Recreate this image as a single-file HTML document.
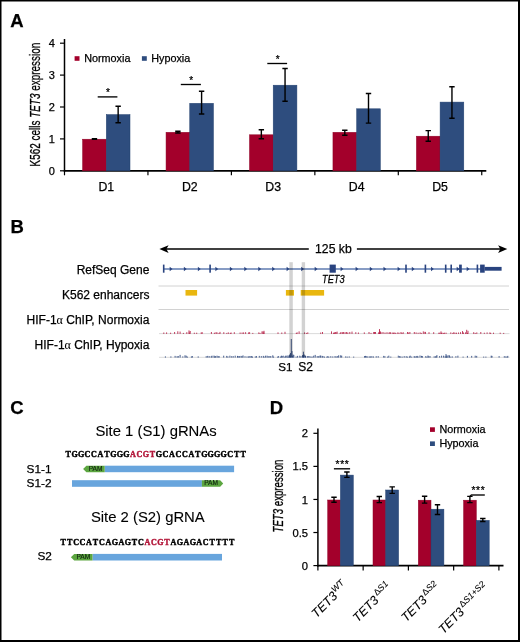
<!DOCTYPE html>
<html><head><meta charset="utf-8"><style>
html,body{margin:0;padding:0;background:#fff;}
svg{display:block;will-change:transform;}
</style></head><body>
<svg width="520" height="642" viewBox="0 0 520 642">
<rect x="0" y="0" width="520" height="642" fill="#fff"/>
<rect x="0" y="0" width="1.5" height="642" fill="#000"/>
<rect x="0" y="0" width="520" height="1.5" fill="#000"/>
<rect x="518" y="0" width="2" height="642" fill="#000"/>
<rect x="0" y="640" width="520" height="2" fill="#000"/>
<text x="10.3" y="27.1" font-size="18.5" font-weight="bold" font-family="Liberation Sans, sans-serif" stroke="#000" stroke-width="0.25">A</text>
<text x="10.6" y="232.9" font-size="18.5" font-weight="bold" font-family="Liberation Sans, sans-serif" stroke="#000" stroke-width="0.25">B</text>
<text x="10.3" y="414.2" font-size="18.5" font-weight="bold" font-family="Liberation Sans, sans-serif" stroke="#000" stroke-width="0.25">C</text>
<text x="269.8" y="414.2" font-size="18.5" font-weight="bold" font-family="Liberation Sans, sans-serif" stroke="#000" stroke-width="0.25">D</text>
<line x1="64.5" y1="39" x2="64.5" y2="171.6" stroke="#000" stroke-width="1.5"/>
<line x1="63.8" y1="170.8" x2="486.3" y2="170.8" stroke="#000" stroke-width="1.8"/>
<line x1="60" y1="170.80" x2="64.5" y2="170.80" stroke="#000" stroke-width="1.2"/>
<text x="54.8" y="174.80" font-size="11" text-anchor="end" font-family="Liberation Sans, sans-serif" stroke="#000" stroke-width="0.25">0</text>
<line x1="60" y1="138.90" x2="64.5" y2="138.90" stroke="#000" stroke-width="1.2"/>
<text x="54.8" y="142.90" font-size="11" text-anchor="end" font-family="Liberation Sans, sans-serif" stroke="#000" stroke-width="0.25">1</text>
<line x1="60" y1="107.00" x2="64.5" y2="107.00" stroke="#000" stroke-width="1.2"/>
<text x="54.8" y="111.00" font-size="11" text-anchor="end" font-family="Liberation Sans, sans-serif" stroke="#000" stroke-width="0.25">2</text>
<line x1="60" y1="75.10" x2="64.5" y2="75.10" stroke="#000" stroke-width="1.2"/>
<text x="54.8" y="79.10" font-size="11" text-anchor="end" font-family="Liberation Sans, sans-serif" stroke="#000" stroke-width="0.25">3</text>
<line x1="60" y1="43.20" x2="64.5" y2="43.20" stroke="#000" stroke-width="1.2"/>
<text x="54.8" y="47.20" font-size="11" text-anchor="end" font-family="Liberation Sans, sans-serif" stroke="#000" stroke-width="0.25">4</text>
<line x1="64.50" y1="170.8" x2="64.50" y2="175.3" stroke="#000" stroke-width="1.2"/>
<line x1="147.95" y1="170.8" x2="147.95" y2="175.3" stroke="#000" stroke-width="1.2"/>
<line x1="231.40" y1="170.8" x2="231.40" y2="175.3" stroke="#000" stroke-width="1.2"/>
<line x1="314.85" y1="170.8" x2="314.85" y2="175.3" stroke="#000" stroke-width="1.2"/>
<line x1="398.30" y1="170.8" x2="398.30" y2="175.3" stroke="#000" stroke-width="1.2"/>
<line x1="481.75" y1="170.8" x2="481.75" y2="175.3" stroke="#000" stroke-width="1.2"/>
<rect x="82.60" y="139.2" width="23.7" height="31.60" fill="#A3002B" stroke="#8E0025" stroke-width="0.5"/>
<rect x="106.30" y="114.6" width="23.7" height="56.20" fill="#2E4D7E" stroke="#22406F" stroke-width="0.5"/>
<path d="M91.75 138.6H97.15M94.45 138.6V139.4M91.75 139.4H97.15" stroke="#000" stroke-width="1.4" fill="none"/>
<path d="M115.45 106.3H120.85M118.15 106.3V122.8M115.45 122.8H120.85" stroke="#000" stroke-width="1.4" fill="none"/>
<text x="106.30" y="190.8" font-size="12.3" text-anchor="middle" font-family="Liberation Sans, sans-serif" stroke="#000" stroke-width="0.25">D1</text>
<rect x="166.05" y="132.3" width="23.7" height="38.50" fill="#A3002B" stroke="#8E0025" stroke-width="0.5"/>
<rect x="189.75" y="103.3" width="23.7" height="67.50" fill="#2E4D7E" stroke="#22406F" stroke-width="0.5"/>
<path d="M175.20 131.3H180.60M177.90 131.3V133.0M175.20 133.0H180.60" stroke="#000" stroke-width="1.4" fill="none"/>
<path d="M198.90 91.2H204.30M201.60 91.2V114.0M198.90 114.0H204.30" stroke="#000" stroke-width="1.4" fill="none"/>
<text x="189.75" y="190.8" font-size="12.3" text-anchor="middle" font-family="Liberation Sans, sans-serif" stroke="#000" stroke-width="0.25">D2</text>
<rect x="249.50" y="134.8" width="23.7" height="36.00" fill="#A3002B" stroke="#8E0025" stroke-width="0.5"/>
<rect x="273.20" y="85.2" width="23.7" height="85.60" fill="#2E4D7E" stroke="#22406F" stroke-width="0.5"/>
<path d="M258.65 129.8H264.05M261.35 129.8V138.8M258.65 138.8H264.05" stroke="#000" stroke-width="1.4" fill="none"/>
<path d="M282.35 68.5H287.75M285.05 68.5V101.3M282.35 101.3H287.75" stroke="#000" stroke-width="1.4" fill="none"/>
<text x="273.20" y="190.8" font-size="12.3" text-anchor="middle" font-family="Liberation Sans, sans-serif" stroke="#000" stroke-width="0.25">D3</text>
<rect x="332.95" y="132.3" width="23.7" height="38.50" fill="#A3002B" stroke="#8E0025" stroke-width="0.5"/>
<rect x="356.65" y="108.8" width="23.7" height="62.00" fill="#2E4D7E" stroke="#22406F" stroke-width="0.5"/>
<path d="M342.10 130.2H347.50M344.80 130.2V135.2M342.10 135.2H347.50" stroke="#000" stroke-width="1.4" fill="none"/>
<path d="M365.80 93.5H371.20M368.50 93.5V123.1M365.80 123.1H371.20" stroke="#000" stroke-width="1.4" fill="none"/>
<text x="356.65" y="190.8" font-size="12.3" text-anchor="middle" font-family="Liberation Sans, sans-serif" stroke="#000" stroke-width="0.25">D4</text>
<rect x="416.40" y="136.2" width="23.7" height="34.60" fill="#A3002B" stroke="#8E0025" stroke-width="0.5"/>
<rect x="440.10" y="102.1" width="23.7" height="68.70" fill="#2E4D7E" stroke="#22406F" stroke-width="0.5"/>
<path d="M425.55 130.6H430.95M428.25 130.6V141.3M425.55 141.3H430.95" stroke="#000" stroke-width="1.4" fill="none"/>
<path d="M449.25 86.7H454.65M451.95 86.7V118.3M449.25 118.3H454.65" stroke="#000" stroke-width="1.4" fill="none"/>
<text x="440.10" y="190.8" font-size="12.3" text-anchor="middle" font-family="Liberation Sans, sans-serif" stroke="#000" stroke-width="0.25">D5</text>
<line x1="97.7" y1="96.9" x2="117.4" y2="96.9" stroke="#000" stroke-width="1.35"/>
<text x="107.95" y="96.20" font-size="10" text-anchor="middle" font-family="Liberation Sans, sans-serif" stroke="#000" stroke-width="0.25">*</text>
<line x1="180.8" y1="84.5" x2="200.9" y2="84.5" stroke="#000" stroke-width="1.35"/>
<text x="191.25" y="83.80" font-size="10" text-anchor="middle" font-family="Liberation Sans, sans-serif" stroke="#000" stroke-width="0.25">*</text>
<line x1="267.3" y1="63.5" x2="287.1" y2="63.5" stroke="#000" stroke-width="1.35"/>
<text x="277.60" y="62.80" font-size="10" text-anchor="middle" font-family="Liberation Sans, sans-serif" stroke="#000" stroke-width="0.25">*</text>
<rect x="74.6" y="56.2" width="4.9" height="4.6" fill="#A3002B"/>
<text x="84.2" y="61.5" font-size="10.8" font-family="Liberation Sans, sans-serif" stroke="#000" stroke-width="0.25">Normoxia</text>
<rect x="141.9" y="56.2" width="4.9" height="4.6" fill="#2E4D7E"/>
<text x="151.2" y="61.5" font-size="10.8" font-family="Liberation Sans, sans-serif" stroke="#000" stroke-width="0.25">Hypoxia</text>
<text transform="translate(39.7,104.6) rotate(-90) scale(0.71,1)" font-size="14" stroke="#000" stroke-width="0.3" text-anchor="middle" font-family="Liberation Sans, sans-serif">K562 cells <tspan font-style="italic">TET3</tspan> expression</text>
<text x="149.4" y="274" font-size="12" text-anchor="end" font-family="Liberation Sans, sans-serif" stroke="#000" stroke-width="0.25">RefSeq Gene</text>
<text x="149.4" y="299.2" font-size="12" text-anchor="end" font-family="Liberation Sans, sans-serif" stroke="#000" stroke-width="0.25">K562 enhancers</text>
<text x="149.4" y="324.3" font-size="12" text-anchor="end" font-family="Liberation Sans, sans-serif" stroke="#000" stroke-width="0.25">HIF-1<tspan font-family="Liberation Serif, serif" stroke-width="0.05">&#945;</tspan> ChIP, Normoxia</text>
<text x="149.4" y="349.3" font-size="12" text-anchor="end" font-family="Liberation Sans, sans-serif" stroke="#000" stroke-width="0.25">HIF-1<tspan font-family="Liberation Serif, serif" stroke-width="0.05">&#945;</tspan> ChIP, Hypoxia</text>
<line x1="163" y1="249.1" x2="308.8" y2="249.1" stroke="#000" stroke-width="1.5"/>
<line x1="356.9" y1="249.1" x2="503" y2="249.1" stroke="#000" stroke-width="1.5"/>
<path d="M159.4 249.1L168.6 245.29999999999998L166.4 249.1L168.6 252.9Z" fill="#000"/>
<path d="M507.3 249.1L498.1 245.29999999999998L500.3 249.1L498.1 252.9Z" fill="#000"/>
<text x="333.4" y="252.6" font-size="12.2" text-anchor="middle" font-family="Liberation Sans, sans-serif" stroke="#000" stroke-width="0.25">125 kb</text>
<line x1="163.7" y1="269" x2="484" y2="269" stroke="#5F7BB1" stroke-width="1.5"/>
<rect x="162.90" y="264.6" width="1.6" height="8.1" fill="#29437F"/>
<rect x="209.30" y="264.6" width="1.6" height="8.1" fill="#29437F"/>
<rect x="405.20" y="264.6" width="1.6" height="8.1" fill="#29437F"/>
<rect x="424.60" y="264.6" width="1.6" height="8.1" fill="#29437F"/>
<rect x="444.90" y="264.6" width="1.6" height="8.1" fill="#29437F"/>
<rect x="450.40" y="264.6" width="1.6" height="8.1" fill="#29437F"/>
<rect x="476.60" y="264.6" width="1.6" height="8.1" fill="#29437F"/>
<rect x="459.1" y="264.6" width="2.7" height="8.1" fill="#29437F"/>
<rect x="329.6" y="264.6" width="6.2" height="8.1" fill="#29437F"/>
<rect x="480.1" y="264.6" width="4.6" height="8.1" fill="#29437F"/>
<rect x="484.5" y="266.9" width="17.1" height="3.8" fill="#29437F"/>
<path d="M169.70 266.8L172.50 269L169.70 271.2Z" fill="#29437F"/>
<path d="M183.90 266.8L186.70 269L183.90 271.2Z" fill="#29437F"/>
<path d="M197.90 266.8L200.70 269L197.90 271.2Z" fill="#29437F"/>
<path d="M215.40 266.8L218.20 269L215.40 271.2Z" fill="#29437F"/>
<path d="M229.90 266.8L232.70 269L229.90 271.2Z" fill="#29437F"/>
<path d="M244.30 266.8L247.10 269L244.30 271.2Z" fill="#29437F"/>
<path d="M258.30 266.8L261.10 269L258.30 271.2Z" fill="#29437F"/>
<path d="M272.20 266.8L275.00 269L272.20 271.2Z" fill="#29437F"/>
<path d="M286.60 266.8L289.40 269L286.60 271.2Z" fill="#29437F"/>
<path d="M301.20 266.8L304.00 269L301.20 271.2Z" fill="#29437F"/>
<path d="M314.70 266.8L317.50 269L314.70 271.2Z" fill="#29437F"/>
<path d="M340.60 266.8L343.40 269L340.60 271.2Z" fill="#29437F"/>
<path d="M355.60 266.8L358.40 269L355.60 271.2Z" fill="#29437F"/>
<path d="M369.80 266.8L372.60 269L369.80 271.2Z" fill="#29437F"/>
<path d="M383.50 266.8L386.30 269L383.50 271.2Z" fill="#29437F"/>
<path d="M397.60 266.8L400.40 269L397.60 271.2Z" fill="#29437F"/>
<path d="M411.80 266.8L414.60 269L411.80 271.2Z" fill="#29437F"/>
<path d="M431.00 266.8L433.80 269L431.00 271.2Z" fill="#29437F"/>
<path d="M456.70 266.8L459.50 269L456.70 271.2Z" fill="#29437F"/>
<path d="M466.70 266.8L469.50 269L466.70 271.2Z" fill="#29437F"/>
<text transform="translate(322,282.6) scale(0.84,1)" font-size="11" font-style="italic" font-family="Liberation Sans, sans-serif" stroke="#000" stroke-width="0.25">TET3</text>
<line x1="158.5" y1="286" x2="509" y2="286" stroke="#d2d2d2" stroke-width="1"/>
<line x1="158.5" y1="309.5" x2="509" y2="309.5" stroke="#d2d2d2" stroke-width="1"/>
<rect x="185.5" y="290" width="11.60" height="5.6" fill="#E9B70F"/>
<rect x="285.9" y="290" width="8.10" height="5.6" fill="#E9B70F"/>
<rect x="300.7" y="290" width="23.40" height="5.6" fill="#E9B70F"/>
<line x1="159" y1="333.59999999999997" x2="509.5" y2="333.59999999999997" stroke="#d6d6d6" stroke-width="0.9"/>
<path d="M163.8 333.9V332.5M166.6 333.9V332.4M170.6 333.9V332.7M174.6 333.9V332.0M177.8 333.9V331.3M180.1 333.9V331.6M183.4 333.9V332.9M186.8 333.9V332.2M189.3 333.9V332.5M194.3 333.9V332.7M196.7 333.9V332.7M201.2 333.9V332.4M202.2 333.9V332.2M211.4 333.9V332.0M214.4 333.9V332.7M216.0 333.9V332.2M217.0 333.9V332.4M219.0 333.9V332.9M223.8 333.9V332.2M226.8 333.9V332.9M228.3 333.9V332.4M230.3 333.9V332.9M231.1 333.9V332.5M234.3 333.9V332.2M240.1 333.9V332.5M242.1 333.9V332.5M243.6 333.9V332.4M245.6 333.9V332.2M248.6 333.9V332.4M249.6 333.9V332.2M252.8 333.9V332.9M258.8 333.9V332.4M260.0 333.9V332.9M263.0 333.9V331.4M263.8 333.9V332.5M278.0 333.9V332.4M281.8 333.9V332.5M296.3 333.9V332.9M297.1 333.9V332.4M299.1 333.9V331.4M304.6 333.9V332.4M306.6 333.9V332.9M307.8 333.9V332.4M320.7 333.9V332.5M322.5 333.9V332.0M331.5 333.9V331.4M333.5 333.9V332.7M334.5 333.9V332.5M335.3 333.9V332.0M336.1 333.9V332.2M337.1 333.9V331.6M340.1 333.9V332.9M340.9 333.9V332.0M342.4 333.9V332.2M343.6 333.9V332.0M345.1 333.9V332.2M346.6 333.9V332.0M347.8 333.9V332.5M349.8 333.9V332.0M355.8 333.9V332.2M358.4 333.9V332.5M364.3 333.9V332.4M369.0 333.9V332.0M371.0 333.9V332.9M373.7 333.9V332.0M374.5 333.9V332.0M375.5 333.9V332.0M378.5 333.9V332.4M379.5 333.9V332.7M381.0 333.9V332.2M383.0 333.9V332.0M385.0 333.9V332.5M387.0 333.9V332.2M389.0 333.9V332.5M390.0 333.9V332.0M390.8 333.9V332.5M392.8 333.9V332.5M393.6 333.9V332.7M394.8 333.9V332.5M395.8 333.9V332.9M397.8 333.9V332.4M399.0 333.9V332.7M401.0 333.9V332.0M402.0 333.9V332.9M403.2 333.9V332.2M407.5 333.9V332.0M408.7 333.9V332.5M409.9 333.9V332.0M414.3 333.9V332.0M416.1 333.9V332.4M418.1 333.9V332.7M420.1 333.9V332.4M421.3 333.9V332.9M423.3 333.9V331.4M425.3 333.9V332.0M429.0 333.9V332.2M433.7 333.9V332.2M438.8 333.9V332.7M439.8 333.9V332.7M441.3 333.9V332.9M442.1 333.9V332.7M443.6 333.9V332.9M444.6 333.9V332.7M446.1 333.9V332.7M450.8 333.9V332.4M452.8 333.9V332.9M453.8 333.9V332.2M455.0 333.9V332.7M456.5 333.9V332.7M458.5 333.9V332.5M460.5 333.9V332.2M462.5 333.9V331.1M463.5 333.9V332.5M465.5 333.9V332.4M467.5 333.9V332.9M473.7 333.9V332.2M475.2 333.9V332.9M476.8 333.9V332.4M480.8 333.9V332.0M484.3 333.9V332.7M487.1 333.9V332.4M489.9 333.9V332.4M490.7 333.9V332.9M493.5 333.9V332.7M500.2 333.9V332.7M503.7 333.9V332.9M189 333.9V330.4M190.2 333.9V331.0M262 333.9V331.4M264 333.9V330.79999999999995M285 333.9V331.79999999999995M379.5 333.9V329.09999999999997M380.4 333.9V331.4M466.7 333.9V329.79999999999995M468 333.9V330.79999999999995M441 333.9V331.4M425 333.9V331.79999999999995M352 333.9V331.59999999999997M220 333.9V331.9" stroke="#B5173F" stroke-width="0.85" fill="none"/>
<line x1="159" y1="357.3" x2="509.5" y2="357.3" stroke="#d6d6d6" stroke-width="0.9"/>
<path d="M165.4 357.6V356.4M170.9 357.6V356.4M175.1 357.6V355.9M177.1 357.6V356.2M178.3 357.6V356.1M180.1 357.6V354.9M182.8 357.6V356.4M186.2 357.6V355.7M187.4 357.6V356.6M191.4 357.6V356.4M192.4 357.6V356.1M198.2 357.6V356.4M206.2 357.6V356.2M207.7 357.6V355.9M209.2 357.6V356.1M211.2 357.6V356.2M212.0 357.6V355.7M214.7 357.6V356.4M215.5 357.6V356.2M217.0 357.6V355.7M218.2 357.6V356.1M219.2 357.6V356.2M223.7 357.6V355.7M226.7 357.6V355.9M227.9 357.6V356.4M229.9 357.6V355.7M231.7 357.6V356.2M233.2 357.6V356.1M235.2 357.6V355.7M237.5 357.6V355.9M238.3 357.6V356.2M239.5 357.6V356.2M241.0 357.6V355.9M242.0 357.6V356.1M243.0 357.6V355.4M245.0 357.6V356.2M247.0 357.6V356.4M248.5 357.6V356.4M249.7 357.6V356.2M250.9 357.6V356.2M251.7 357.6V356.1M252.5 357.6V356.6M255.3 357.6V356.4M256.5 357.6V356.1M259.3 357.6V355.9M261.3 357.6V356.1M263.3 357.6V355.9M264.1 357.6V356.6M265.6 357.6V355.7M267.1 357.6V355.7M268.3 357.6V356.2M269.8 357.6V356.1M270.8 357.6V356.1M272.8 357.6V355.3M273.6 357.6V356.6M277.6 357.6V356.6M278.6 357.6V356.1M280.6 357.6V356.6M281.4 357.6V355.7M282.2 357.6V356.1M283.2 357.6V355.7M284.7 357.6V356.6M285.9 357.6V355.9M287.9 357.6V356.6M289.1 357.6V356.4M290.3 357.6V356.4M292.3 357.6V356.1M293.8 357.6V354.9M296.1 357.6V356.6M297.6 357.6V355.9M299.8 357.6V355.7M301.0 357.6V356.2M303.0 357.6V356.4M303.8 357.6V354.8M305.3 357.6V356.1M307.3 357.6V356.1M308.3 357.6V356.1M309.8 357.6V356.2M311.0 357.6V356.6M312.2 357.6V356.6M313.7 357.6V355.7M315.2 357.6V354.9M317.2 357.6V356.1M318.4 357.6V356.2M319.9 357.6V355.7M320.7 357.6V355.5M322.2 357.6V355.9M323.0 357.6V356.1M324.5 357.6V356.6M326.8 357.6V356.6M327.8 357.6V356.1M328.8 357.6V356.6M330.8 357.6V356.2M332.8 357.6V356.4M335.0 357.6V356.1M336.2 357.6V356.4M337.7 357.6V356.1M338.7 357.6V355.3M340.7 357.6V355.3M341.7 357.6V355.7M345.7 357.6V356.4M347.2 357.6V356.6M349.2 357.6V356.4M353.7 357.6V356.6M364.5 357.6V356.1M365.5 357.6V355.9M366.7 357.6V356.2M367.9 357.6V356.4M369.7 357.6V356.4M370.7 357.6V356.4M371.9 357.6V356.2M373.4 357.6V356.4M376.2 357.6V356.2M378.2 357.6V356.1M383.7 357.6V355.9M384.9 357.6V356.2M387.6 357.6V356.6M388.8 357.6V355.7M390.8 357.6V356.6M398.3 357.6V355.7M399.5 357.6V356.2M400.7 357.6V356.4M402.2 357.6V356.6M404.2 357.6V356.1M406.2 357.6V356.2M407.4 357.6V356.6M409.4 357.6V356.4M410.2 357.6V355.7M411.7 357.6V356.6M414.2 357.6V356.1M415.0 357.6V356.6M416.2 357.6V356.1M417.2 357.6V355.9M418.0 357.6V356.4M421.5 357.6V355.9M422.5 357.6V356.2M425.7 357.6V356.2M426.9 357.6V356.6M428.9 357.6V356.1M430.1 357.6V356.2M434.1 357.6V356.4M435.3 357.6V356.4M436.1 357.6V356.1M436.9 357.6V355.1M439.6 357.6V356.1M441.6 357.6V355.7M443.6 357.6V355.7M445.1 357.6V356.4M446.1 357.6V356.6M447.1 357.6V356.4M449.3 357.6V355.7M450.8 357.6V356.6M452.3 357.6V356.4M455.9 357.6V356.2M457.9 357.6V355.7M463.1 357.6V356.6M467.4 357.6V355.9M471.7 357.6V355.9M475.2 357.6V355.7M476.7 357.6V355.9M483.7 357.6V356.6M485.9 357.6V356.6M491.2 357.6V355.7M492.0 357.6V355.9M499.1 357.6V356.1M504.3 357.6V356.2M505.8 357.6V356.4M507.0 357.6V356.6M507.8 357.6V355.9M291.3 357.6V339.0M292 357.6V351.1M290.5 357.6V353.1M289.5 357.6V354.6M293 357.6V354.6M288 357.6V355.3M286 357.6V355.6M303.4 357.6V351.70000000000005M304.2 357.6V354.6M302.5 357.6V355.1M305.5 357.6V355.6M446 357.6V354.1M447 357.6V355.3M449 357.6V355.1M420 357.6V355.5M428 357.6V355.5M214 357.6V355.6M185 357.6V355.3" stroke="#23407A" stroke-width="0.85" fill="none"/>
<rect x="289.3" y="262.2" width="3.50" height="94.8" fill="#000" fill-opacity="0.175"/>
<rect x="301.7" y="262.2" width="3.40" height="94.8" fill="#000" fill-opacity="0.175"/>
<text x="278.2" y="371.3" font-size="11.6" font-family="Liberation Sans, sans-serif" stroke="#000" stroke-width="0.25">S1</text>
<text x="298.2" y="371.3" font-size="12" font-family="Liberation Sans, sans-serif" stroke="#000" stroke-width="0.25">S2</text>
<text x="95.4" y="436.2" font-size="14.85" stroke="#000" stroke-width="0.1" font-family="Liberation Sans, sans-serif">Site 1 (S1) gRNAs</text>
<text x="90.9" y="522.0" font-size="14.85" stroke="#000" stroke-width="0.1" font-family="Liberation Sans, sans-serif">Site 2 (S2) gRNA</text>
<text transform="translate(0,456.8) scale(0.9,1)" x="75.67 82.87 90.08 97.28 104.49 111.69 118.90 126.11 133.31 140.52 147.72 154.93 162.13 169.34 176.54 183.75 190.96 198.16 205.37 212.57 219.78 226.98 234.19 241.39 248.60 255.81 263.01 270.22" y="0" text-anchor="middle" font-size="9" font-family="Liberation Serif, serif" font-weight="bold" stroke="#000" stroke-width="0.45">TGGCCATGGG<tspan fill="#B3173A" stroke="#B3173A">ACGT</tspan>GCACCATGGGGCTT</text>
<text transform="translate(0,544.5) scale(0.9,1)" x="70.11 77.32 84.52 91.73 98.93 106.14 113.34 120.55 127.76 134.96 142.17 149.37 156.58 163.78 170.99 178.19 185.40 192.61 199.81 207.02 214.22 221.43 228.63 235.84 243.04 250.25 257.46" y="0" text-anchor="middle" font-size="9" font-family="Liberation Serif, serif" font-weight="bold" stroke="#000" stroke-width="0.45">TTCCATCAGAGTC<tspan fill="#B3173A" stroke="#B3173A">ACGT</tspan>AGAGACTTTT</text>
<text x="26.6" y="472.7" font-size="11.8" font-family="Liberation Sans, sans-serif" stroke="#000" stroke-width="0.25">S1-1</text>
<text x="26.6" y="486.8" font-size="11.8" font-family="Liberation Sans, sans-serif" stroke="#000" stroke-width="0.25">S1-2</text>
<text x="37.4" y="560.4" font-size="11.8" font-family="Liberation Sans, sans-serif" stroke="#000" stroke-width="0.25">S2</text>
<rect x="104.7" y="465.7" width="129.40" height="6.50" fill="#68A5DD"/>
<path d="M83.1 468.95L86.39999999999999 465.7H104.7V472.2H86.39999999999999Z" fill="#5CA640"/>
<text x="95.55" y="470.70" font-size="6.6" text-anchor="middle" fill="#0f2410" stroke="#0f2410" stroke-width="0.15" font-family="Liberation Sans, sans-serif">PAM</text>
<rect x="72" y="480.2" width="129.90" height="6.60" fill="#68A5DD"/>
<path d="M223.2 483.5L220.2 480.2H201.9V486.8H220.2Z" fill="#5CA640"/>
<text x="211.05" y="485.30" font-size="6.6" text-anchor="middle" fill="#0f2410" stroke="#0f2410" stroke-width="0.15" font-family="Liberation Sans, sans-serif">PAM</text>
<rect x="92.5" y="553.9" width="129.50" height="6.60" fill="#68A5DD"/>
<path d="M70.9 557.2L74.2 553.9H92.5V560.5H74.2Z" fill="#5CA640"/>
<text x="83.35" y="559.00" font-size="6.6" text-anchor="middle" fill="#0f2410" stroke="#0f2410" stroke-width="0.15" font-family="Liberation Sans, sans-serif">PAM</text>
<line x1="317.9" y1="428.5" x2="317.9" y2="566.5" stroke="#000" stroke-width="1.5"/>
<line x1="317.2" y1="565.7" x2="503.5" y2="565.7" stroke="#000" stroke-width="1.8"/>
<line x1="313.4" y1="565.60" x2="317.9" y2="565.60" stroke="#000" stroke-width="1.2"/>
<text x="308.1" y="569.70" font-size="11.2" text-anchor="end" font-family="Liberation Sans, sans-serif" stroke="#000" stroke-width="0.25">0</text>
<line x1="313.4" y1="532.52" x2="317.9" y2="532.52" stroke="#000" stroke-width="1.2"/>
<text x="308.1" y="536.62" font-size="11.2" text-anchor="end" font-family="Liberation Sans, sans-serif" stroke="#000" stroke-width="0.25">0.5</text>
<line x1="313.4" y1="499.45" x2="317.9" y2="499.45" stroke="#000" stroke-width="1.2"/>
<text x="308.1" y="503.55" font-size="11.2" text-anchor="end" font-family="Liberation Sans, sans-serif" stroke="#000" stroke-width="0.25">1</text>
<line x1="313.4" y1="466.38" x2="317.9" y2="466.38" stroke="#000" stroke-width="1.2"/>
<text x="308.1" y="470.48" font-size="11.2" text-anchor="end" font-family="Liberation Sans, sans-serif" stroke="#000" stroke-width="0.25">1.5</text>
<line x1="313.4" y1="433.30" x2="317.9" y2="433.30" stroke="#000" stroke-width="1.2"/>
<text x="308.1" y="437.40" font-size="11.2" text-anchor="end" font-family="Liberation Sans, sans-serif" stroke="#000" stroke-width="0.25">2</text>
<line x1="317.90" y1="565.7" x2="317.90" y2="570.5" stroke="#000" stroke-width="1.2"/>
<line x1="363.15" y1="565.7" x2="363.15" y2="570.5" stroke="#000" stroke-width="1.2"/>
<line x1="408.40" y1="565.7" x2="408.40" y2="570.5" stroke="#000" stroke-width="1.2"/>
<line x1="453.65" y1="565.7" x2="453.65" y2="570.5" stroke="#000" stroke-width="1.2"/>
<line x1="498.90" y1="565.7" x2="498.90" y2="570.5" stroke="#000" stroke-width="1.2"/>
<rect x="327.70" y="500" width="12.7" height="65.70" fill="#A3002B" stroke="#8E0025" stroke-width="0.5"/>
<rect x="340.40" y="475.1" width="12.9" height="90.60" fill="#2E4D7E" stroke="#22406F" stroke-width="0.5"/>
<path d="M331.30 497.2H336.70M334.00 497.2V502.3M331.30 502.3H336.70" stroke="#000" stroke-width="1.4" fill="none"/>
<path d="M344.20 472H349.60M346.90 472V477.4M344.20 477.4H349.60" stroke="#000" stroke-width="1.4" fill="none"/>
<rect x="373.00" y="500" width="12.7" height="65.70" fill="#A3002B" stroke="#8E0025" stroke-width="0.5"/>
<rect x="385.70" y="490" width="12.9" height="75.70" fill="#2E4D7E" stroke="#22406F" stroke-width="0.5"/>
<path d="M376.60 496.5H382.00M379.30 496.5V502.6M376.60 502.6H382.00" stroke="#000" stroke-width="1.4" fill="none"/>
<path d="M389.50 486.9H394.90M392.20 486.9V493.4M389.50 493.4H394.90" stroke="#000" stroke-width="1.4" fill="none"/>
<rect x="418.30" y="500.2" width="12.7" height="65.50" fill="#A3002B" stroke="#8E0025" stroke-width="0.5"/>
<rect x="431.00" y="509.2" width="12.9" height="56.50" fill="#2E4D7E" stroke="#22406F" stroke-width="0.5"/>
<path d="M421.90 496.2H427.30M424.60 496.2V503.1M421.90 503.1H427.30" stroke="#000" stroke-width="1.4" fill="none"/>
<path d="M434.80 504.7H440.20M437.50 504.7V514.5M434.80 514.5H440.20" stroke="#000" stroke-width="1.4" fill="none"/>
<rect x="463.60" y="500.2" width="12.7" height="65.50" fill="#A3002B" stroke="#8E0025" stroke-width="0.5"/>
<rect x="476.30" y="520.4" width="12.9" height="45.30" fill="#2E4D7E" stroke="#22406F" stroke-width="0.5"/>
<path d="M467.20 496.4H472.60M469.90 496.4V502.6M467.20 502.6H472.60" stroke="#000" stroke-width="1.4" fill="none"/>
<path d="M480.10 518.5H485.50M482.80 518.5V521.5M480.10 521.5H485.50" stroke="#000" stroke-width="1.4" fill="none"/>
<path d="M471.2 495L469.6 496.6" stroke="#000" stroke-width="1.1"/>
<line x1="333.9" y1="468.8" x2="350.1" y2="468.8" stroke="#000" stroke-width="1.35"/>
<text x="342.50" y="468.00" font-size="10.2" letter-spacing="0.7" text-anchor="middle" font-family="Liberation Sans, sans-serif" stroke="#000" stroke-width="0.25">***</text>
<line x1="471" y1="495" x2="484.8" y2="495" stroke="#000" stroke-width="1.35"/>
<text x="478.40" y="494.20" font-size="10.2" letter-spacing="0.7" text-anchor="middle" font-family="Liberation Sans, sans-serif" stroke="#000" stroke-width="0.25">***</text>
<rect x="430" y="427.3" width="4.9" height="4.6" fill="#A3002B"/>
<text x="439.4" y="432.7" font-size="10.8" font-family="Liberation Sans, sans-serif" stroke="#000" stroke-width="0.25">Normoxia</text>
<rect x="430" y="441.4" width="4.9" height="4.6" fill="#2E4D7E"/>
<text x="439.4" y="446.8" font-size="10.8" font-family="Liberation Sans, sans-serif" stroke="#000" stroke-width="0.25">Hypoxia</text>
<text transform="translate(282.8,496) rotate(-90) scale(0.69,1)" font-size="14" stroke="#000" stroke-width="0.3" text-anchor="middle" font-family="Liberation Sans, sans-serif"><tspan font-style="italic">TET3</tspan> expression</text>
<text transform="translate(348.2,586.8) rotate(-45)" font-size="12.5" text-anchor="end" font-style="italic" stroke="#000" stroke-width="0.08" font-family="Liberation Sans, sans-serif">TET3<tspan font-size="8.8" dx="0.6" dy="-5.2">WT</tspan></text>
<text transform="translate(392.4,588) rotate(-45)" font-size="12.5" text-anchor="end" font-style="italic" stroke="#000" stroke-width="0.08" font-family="Liberation Sans, sans-serif">TET3<tspan font-size="8.8" dx="1.8" dy="-5.2"><tspan font-style="normal">&#916;</tspan>S1</tspan></text>
<text transform="translate(440.8,587.9) rotate(-45)" font-size="12.5" text-anchor="end" font-style="italic" stroke="#000" stroke-width="0.08" font-family="Liberation Sans, sans-serif">TET3<tspan font-size="8.8" dx="1.8" dy="-5.2"><tspan font-style="normal">&#916;</tspan>S2</tspan></text>
<text transform="translate(489.3,588.5) rotate(-45)" font-size="12.5" text-anchor="end" font-style="italic" stroke="#000" stroke-width="0.08" font-family="Liberation Sans, sans-serif">TET3<tspan font-size="8.8" dx="1.8" dy="-5.2"><tspan font-style="normal">&#916;</tspan>S1+S2</tspan></text>
</svg>
</body></html>
